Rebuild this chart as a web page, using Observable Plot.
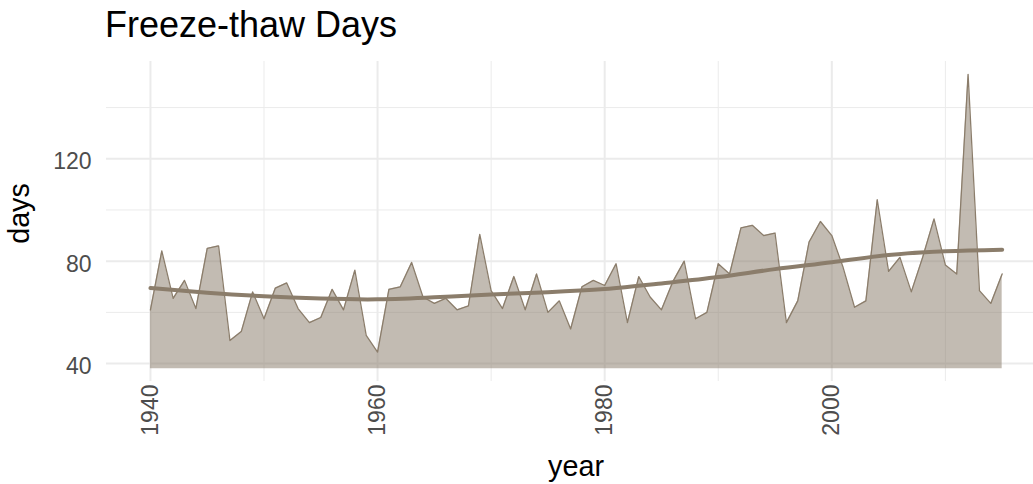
<!DOCTYPE html>
<html>
<head>
<meta charset="utf-8">
<script src="https://cdn.jsdelivr.net/npm/d3@7"></script>
<script src="https://cdn.jsdelivr.net/npm/@observablehq/plot@0.6"></script>
<style>
  html, body { margin: 0; padding: 0; background: #ffffff; }
  body { width: 1033px; height: 484px; overflow: hidden; font-family: "Liberation Sans", Arial, sans-serif; }
  #title { height: 45px; box-sizing: border-box; padding-top: 7px; padding-left: 105px; font-size: 36px; line-height: 36px; color: #000; white-space: nowrap; }
  #chart svg { display: block; }
  g[aria-label="y-axis tick label"], g[aria-label="x-axis tick label"] { fill: #4d4d4d; }
  g[aria-label="y-axis label"] text, g[aria-label="x-axis label"] text { font-size: 28.75px; fill: #000; }
  g[aria-label="y-axis label"] { translate: 0px -8px; }
  g[aria-label="x-axis label"] { translate: 6px 0px; }
</style>
</head>
<body>
<div id="title">Freeze-thaw Days</div>
<div id="chart"></div>
<script>
const years = [1940,1941,1942,1943,1944,1945,1946,1947,1948,1949,
  1950,1951,1952,1953,1954,1955,1956,1957,1958,1959,
  1960,1961,1962,1963,1964,1965,1966,1967,1968,1969,
  1970,1971,1972,1973,1974,1975,1976,1977,1978,1979,
  1980,1981,1982,1983,1984,1985,1986,1987,1988,1989,
  1990,1991,1992,1993,1994,1995,1996,1997,1998,1999,
  2000,2001,2002,2003,2004,2005,2006,2007,2008,2009,
  2010,2011,2012,2013,2014,2015];
const days = [61,84,65.5,72.5,61.5,85,86,49,52.5,68,
  57.5,69.5,71.5,61.5,56,58,69,61,76.5,51,
  44.5,69,70,79.5,66,63.5,65.5,61,62.5,90.5,
  68.5,61.5,74,61,75,60,64.5,53.5,70,72.5,
  70.5,79,56,74,66,61,72,80,57.5,60,
  79,75,93,94,90,91,56,64.5,87.5,95.5,
  90,77.5,62,64.5,104,76,81.5,68,81.5,96.5,
  78.5,75,153,68.5,63.5,75];
const trendYears = [1940,1945,1950,1955,1960,1965,1970,1975,1980,1985,1990,1995,2000,2005,2010,2015];
const trendDays = [69.5,67.7,66.3,65.4,65.1,65.9,67.0,67.9,69.1,71.3,73.8,76.9,79.6,82.4,83.9,84.5];
const baseline = 38;
const yMajor = [40,80,120];
const yMinor = [60,100,140];
const xMajor = [1940,1960,1980,2000];
const xMinor = [1950,1970,1990,2010];

const data = years.map((yr, i) => ({year: yr, days: days[i], base: baseline}));
const trend = trendYears.map((yr, i) => ({year: yr, days: trendDays[i]}));

const chart = Plot.plot({
  width: 1033,
  height: 439,
  marginLeft: 106,
  marginRight: 0,
  marginTop: 16,
  marginBottom: 103,
  style: {fontFamily: "'Liberation Sans', Arial, sans-serif", background: "#ffffff"},
  x: {domain: [1936.13, 2017.76]},
  y: {domain: [33, 158]},
  marks: [
    Plot.ruleY(yMinor, {stroke: "#EBEBEB", strokeWidth: 1}),
    Plot.ruleX(xMinor, {stroke: "#EBEBEB", strokeWidth: 1}),
    Plot.ruleY(yMajor, {stroke: "#EBEBEB", strokeWidth: 2}),
    Plot.ruleX(xMajor, {stroke: "#EBEBEB", strokeWidth: 2}),
    Plot.areaY(data, {x: "year", y1: "base", y2: "days", fill: "#8B7D6B", fillOpacity: 0.52}),
    Plot.lineY(data, {x: "year", y: "days", stroke: "#8B7D6B", strokeWidth: 1.3}),
    Plot.line(trend, {x: "year", y: "days", stroke: "#8B7D6B", strokeWidth: 4, curve: "natural"}),
    Plot.axisY(yMajor, {tickSize: 0, tickPadding: 15, fontSize: 23, dy: 3, label: "days", labelArrow: "none", labelAnchor: "center", labelOffset: 98}),
    Plot.axisX(xMajor, {tickSize: 0, tickPadding: 3, tickRotate: -90, fontSize: 23, tickFormat: d => String(d), label: "year", labelArrow: "none", labelAnchor: "center", labelOffset: 94})
  ]
});
document.getElementById("chart").appendChild(chart);
</script>
</body>
</html>
